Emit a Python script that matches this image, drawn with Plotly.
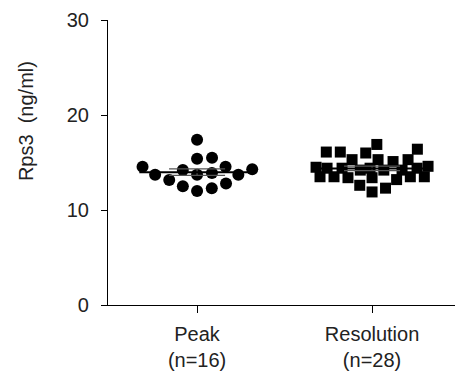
import math
import plotly.graph_objects as go

groups = ["Peak", "Resolution"]
tick_labels = ["Peak<br>(n=16)", "Resolution<br>(n=28)"]
peak = [17.4, 14.56, 13.16, 14.56, 13.7, 12.0, 14.2, 12.8, 13.7, 12.3,
        15.5, 13.9, 12.5, 14.3, 15.4, 13.7]
resolution = [16.9, 16.4, 16.1, 12.3, 12.6, 11.9, 14.4, 14.6, 16.0, 16.1,
              15.3, 15.1, 13.5, 13.2, 15.3, 15.3, 14.5, 13.5, 13.4, 13.5,
              14.2, 14.4, 14.4, 13.4, 13.5, 14.2, 14.2, 14.4]
series = [peak, resolution]
symbols = ["circle", "square"]
sizes = [12, 11]

XPX = 175.0  # px per x unit
YPX = 9.5    # px per y unit


def swarm(vals, diam, maxw):
    placed = []
    offs = [0.0] * len(vals)
    order = sorted(range(len(vals)), key=lambda i: vals[i])
    for i in order:
        y = vals[i] * YPX
        cands = [0.0]
        for (px, py) in placed:
            dy = abs(py - y)
            if dy < diam:
                dx = math.sqrt(diam * diam - dy * dy)
                cands += [px + dx, px - dx]
        cands = [c for c in cands if abs(c) <= maxw]
        cands.sort(key=abs)
        chosen = None
        for c in cands:
            if all((c - px) ** 2 + (y - py) ** 2 >= diam * diam - 1e-6 for px, py in placed):
                chosen = c
                break
        if chosen is None:
            best, bestd = 0.0, -1.0
            k = -maxw
            while k <= maxw:
                d = min(math.hypot(k - px, y - py) for px, py in placed)
                if d > bestd + 1e-9:
                    best, bestd = k, d
                k += 1.0
            chosen = best
        offs[i] = chosen
        placed.append((chosen, y))
    return [o / XPX for o in offs]


fig = go.Figure()
for gi, vals in enumerate(series):
    offs = swarm(vals, sizes[gi] + 3.0, 56.0)
    fig.add_trace(go.Scatter(
        x=[gi + o for o in offs], y=vals, mode="markers",
        marker=dict(symbol=symbols[gi], size=sizes[gi], color="black",
                    line=dict(width=0)),
        showlegend=False, hoverinfo="y"))
    n = len(vals)
    mean = sum(vals) / n
    sd = math.sqrt(sum((v - mean) ** 2 for v in vals) / (n - 1))
    sem = sd / math.sqrt(n)
    # SEM whiskers
    fig.add_trace(go.Scatter(
        x=[gi - 0.16, gi + 0.16, None, gi, gi, None, gi - 0.16, gi + 0.16],
        y=[mean + sem, mean + sem, None, mean + sem, mean - sem, None, mean - sem, mean - sem],
        mode="lines", line=dict(color="#555", width=1.2),
        showlegend=False, hoverinfo="skip"))
    # mean line
    fig.add_trace(go.Scatter(
        x=[gi - 0.33, gi + 0.33], y=[mean, mean], mode="lines",
        line=dict(color="black", width=2), showlegend=False, hoverinfo="skip"))

font = "Liberation Sans, Arial, sans-serif"
fig.update_layout(
    width=455, height=381,
    margin=dict(l=108, r=0, t=20, b=76),
    paper_bgcolor="white", plot_bgcolor="white",
    font=dict(family=font, size=20, color="#222"),
    xaxis=dict(range=[-0.509, 1.474], tickvals=[0, 1], ticktext=tick_labels,
               showgrid=False, zeroline=False, showline=True, linecolor="black",
               linewidth=1.2, ticks="outside", ticklen=7, tickcolor="black",
               tickwidth=1.2, tickfont=dict(size=20), ticklabelstandoff=4),
    yaxis=dict(range=[0, 30], tickvals=[0, 10, 20, 30], showgrid=False,
               zeroline=False, showline=True, linecolor="black", linewidth=1.2,
               ticks="outside", ticklen=6, tickcolor="black", tickwidth=1.2,
               tickfont=dict(size=20), ticklabelstandoff=8),
    annotations=[dict(text="Rps3  (ng/ml)", textangle=-90, xref="paper", yref="y",
                      x=-0.238, y=19.4, xanchor="center", yanchor="middle",
                      showarrow=False, font=dict(size=20, color="#222"))],
)
fig.write_html("out.html", config={"displayModeBar": False},
               post_script="document.body.style.margin='0';")
